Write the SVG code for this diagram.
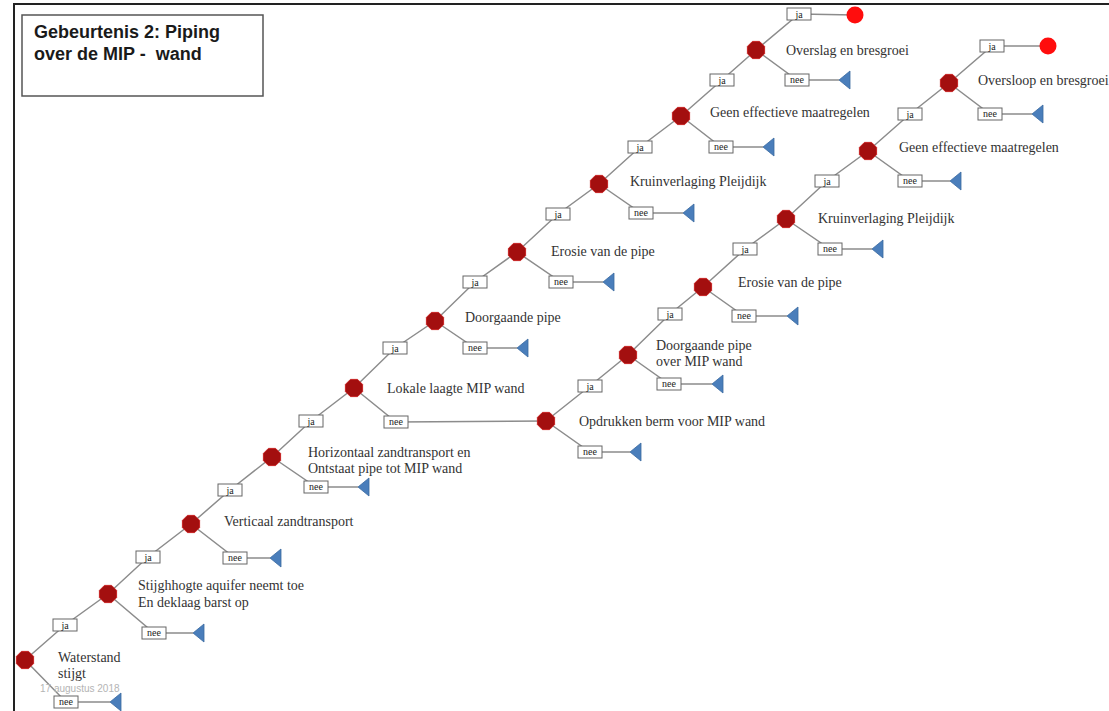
<svg xmlns="http://www.w3.org/2000/svg" xmlns:xlink="http://www.w3.org/1999/xlink" width="1109" height="711" viewBox="0 0 1109 711">
<style>
.ln{stroke:#8c8c8c;stroke-width:1.5;fill:none}
.lbl{font-family:"Liberation Serif","Times New Roman",serif;font-size:14px;fill:#333;white-space:pre}
.box{fill:#fff;stroke:#666;stroke-width:1}
.bt{font-family:"Liberation Serif","Times New Roman",serif;font-size:10px;fill:#222;text-anchor:middle}
.oct{fill:#a30f0f;stroke:#c62020;stroke-width:1}
.tri{fill:#4a7ebb;stroke:#3a6aa0;stroke-width:0.8}
.end{fill:#ff0d0d}
.title{font-family:"Liberation Sans",Arial,sans-serif;font-size:18px;font-weight:bold;fill:#1a1a1a;white-space:pre}
</style>
<defs>
<path id="oct" d="M-3.6,-8.6 L3.6,-8.6 L8.6,-3.6 L8.6,3.6 L3.6,8.6 L-3.6,8.6 L-8.6,3.6 L-8.6,-3.6 Z"/>
<path id="tri" d="M0,0 L11,-9 L11,9 Z"/>
</defs>
<rect width="1109" height="711" fill="#fff"/>
<path d="M14,711 V4 H1109" stroke="#222" stroke-width="2" fill="none"/>
<g id="title">
<rect x="22" y="15" width="241" height="81" fill="#fff" stroke="#555" stroke-width="1.5"/>
<text class="title" x="34" y="38">Gebeurtenis 2: Piping</text>
<text class="title" x="34" y="60" xml:space="preserve">over de MIP -  wand</text>
</g>
<g id="connectors">
<polyline class="ln" points="25,660 65,625 108,594 148,557 191,524 230,490 272,457 311,421 354,388 395,348 435,321 475,282 517,252 558,214 599,184 640,147 681,116 722,80 756,50 799,14 855,15"/>
<polyline class="ln" points="546,421 590,386 628,355 670,314 703,287 745,249 786,219 827,181 868,151 910,114 949,83 992,46 1048,46"/>
<polyline class="ln" points="25,660 66,702 110,702"/>
<polyline class="ln" points="108,594 154,633 193,633"/>
<polyline class="ln" points="191,524 235,558 270,558"/>
<polyline class="ln" points="272,457 316,487 358,487"/>
<polyline class="ln" points="354,388 396,422 546,421"/>
<polyline class="ln" points="435,321 475,348 517,348"/>
<polyline class="ln" points="517,252 561,282 603,282"/>
<polyline class="ln" points="599,184 641,213 683,213"/>
<polyline class="ln" points="681,116 721,147 763,147"/>
<polyline class="ln" points="756,50 797,80 839,80"/>
<polyline class="ln" points="546,421 590,452 630,452"/>
<polyline class="ln" points="628,355 669,384 712,384"/>
<polyline class="ln" points="703,287 744,316 787,316"/>
<polyline class="ln" points="786,219 830,249 872,249"/>
<polyline class="ln" points="868,151 910,181 950,181"/>
<polyline class="ln" points="949,83 990,114 1032,114"/>
<g id="ja-labels">
<rect class="box" x="53" y="619" width="24" height="12"/><text class="bt" x="65" y="629">ja</text>
<rect class="box" x="136" y="551" width="24" height="12"/><text class="bt" x="148" y="561">ja</text>
<rect class="box" x="218" y="484" width="24" height="12"/><text class="bt" x="230" y="494">ja</text>
<rect class="box" x="299" y="415" width="24" height="12"/><text class="bt" x="311" y="425">ja</text>
<rect class="box" x="383" y="342" width="24" height="12"/><text class="bt" x="395" y="352">ja</text>
<rect class="box" x="463" y="276" width="24" height="12"/><text class="bt" x="475" y="286">ja</text>
<rect class="box" x="546" y="208" width="24" height="12"/><text class="bt" x="558" y="218">ja</text>
<rect class="box" x="628" y="141" width="24" height="12"/><text class="bt" x="640" y="151">ja</text>
<rect class="box" x="710" y="74" width="24" height="12"/><text class="bt" x="722" y="84">ja</text>
<rect class="box" x="787" y="8" width="24" height="12"/><text class="bt" x="799" y="18">ja</text>
<rect class="box" x="578" y="380" width="24" height="12"/><text class="bt" x="590" y="390">ja</text>
<rect class="box" x="658" y="308" width="24" height="12"/><text class="bt" x="670" y="318">ja</text>
<rect class="box" x="733" y="243" width="24" height="12"/><text class="bt" x="745" y="253">ja</text>
<rect class="box" x="815" y="175" width="24" height="12"/><text class="bt" x="827" y="185">ja</text>
<rect class="box" x="898" y="108" width="24" height="12"/><text class="bt" x="910" y="118">ja</text>
<rect class="box" x="980" y="40" width="24" height="12"/><text class="bt" x="992" y="50">ja</text>
</g>
<g id="nee-labels">
<rect class="box" x="54" y="696" width="24" height="12"/><text class="bt" x="66" y="705">nee</text>
<rect class="box" x="142" y="627" width="24" height="12"/><text class="bt" x="154" y="636">nee</text>
<rect class="box" x="223" y="552" width="24" height="12"/><text class="bt" x="235" y="561">nee</text>
<rect class="box" x="304" y="481" width="24" height="12"/><text class="bt" x="316" y="490">nee</text>
<rect class="box" x="384" y="416" width="24" height="12"/><text class="bt" x="396" y="425">nee</text>
<rect class="box" x="463" y="342" width="24" height="12"/><text class="bt" x="475" y="351">nee</text>
<rect class="box" x="549" y="276" width="24" height="12"/><text class="bt" x="561" y="285">nee</text>
<rect class="box" x="629" y="207" width="24" height="12"/><text class="bt" x="641" y="216">nee</text>
<rect class="box" x="709" y="141" width="24" height="12"/><text class="bt" x="721" y="150">nee</text>
<rect class="box" x="785" y="74" width="24" height="12"/><text class="bt" x="797" y="83">nee</text>
<rect class="box" x="578" y="446" width="24" height="12"/><text class="bt" x="590" y="455">nee</text>
<rect class="box" x="657" y="378" width="24" height="12"/><text class="bt" x="669" y="387">nee</text>
<rect class="box" x="732" y="310" width="24" height="12"/><text class="bt" x="744" y="319">nee</text>
<rect class="box" x="818" y="243" width="24" height="12"/><text class="bt" x="830" y="252">nee</text>
<rect class="box" x="898" y="175" width="24" height="12"/><text class="bt" x="910" y="184">nee</text>
<rect class="box" x="978" y="108" width="24" height="12"/><text class="bt" x="990" y="117">nee</text>
</g>
</g>
<g id="n1"><use href="#oct" class="oct" x="25" y="660"/><text class="lbl" x="58" y="662">Waterstand</text><text class="lbl" x="58" y="678">stijgt</text></g>
<g id="n2"><use href="#oct" class="oct" x="108" y="594"/><text class="lbl" x="138" y="590">Stijghhogte aquifer neemt toe</text><text class="lbl" x="138" y="607">En deklaag barst op</text></g>
<g id="n3"><use href="#oct" class="oct" x="191" y="524"/><text class="lbl" x="224" y="526">Verticaal zandtransport</text></g>
<g id="n4"><use href="#oct" class="oct" x="272" y="457"/><text class="lbl" x="308" y="457">Horizontaal zandtransport en</text><text class="lbl" x="308" y="473">Ontstaat pipe tot MIP wand</text></g>
<g id="n5"><use href="#oct" class="oct" x="354" y="388"/><text class="lbl" x="387" y="393">Lokale laagte MIP wand</text></g>
<g id="n6"><use href="#oct" class="oct" x="435" y="321"/><text class="lbl" x="465" y="322">Doorgaande pipe</text></g>
<g id="n7"><use href="#oct" class="oct" x="517" y="252"/><text class="lbl" x="551" y="256">Erosie van de pipe</text></g>
<g id="n8"><use href="#oct" class="oct" x="599" y="184"/><text class="lbl" x="630" y="186">Kruinverlaging Pleijdijk</text></g>
<g id="n9"><use href="#oct" class="oct" x="681" y="116"/><text class="lbl" x="710" y="117">Geen effectieve maatregelen</text></g>
<g id="n10"><use href="#oct" class="oct" x="756" y="50"/><text class="lbl" x="786" y="55">Overslag en bresgroei</text></g>
<g id="n11"><use href="#oct" class="oct" x="546" y="421"/><text class="lbl" x="579" y="426">Opdrukken berm voor MIP wand</text></g>
<g id="n12"><use href="#oct" class="oct" x="628" y="355"/><text class="lbl" x="656" y="350">Doorgaande pipe</text><text class="lbl" x="656" y="366">over MIP wand</text></g>
<g id="n13"><use href="#oct" class="oct" x="703" y="287"/><text class="lbl" x="738" y="287">Erosie van de pipe</text></g>
<g id="n14"><use href="#oct" class="oct" x="786" y="219"/><text class="lbl" x="818" y="223">Kruinverlaging Pleijdijk</text></g>
<g id="n15"><use href="#oct" class="oct" x="868" y="151"/><text class="lbl" x="899" y="152">Geen effectieve maatregelen</text></g>
<g id="n16"><use href="#oct" class="oct" x="949" y="83"/><text class="lbl" x="978" y="85">Oversloop en bresgroei</text></g>
<g id="outcomes">
<circle class="end" cx="855" cy="15" r="8.5"/>
<circle class="end" cx="1048" cy="46" r="8.5"/>
<use href="#tri" class="tri" x="110" y="702"/>
<use href="#tri" class="tri" x="193" y="633"/>
<use href="#tri" class="tri" x="270" y="558"/>
<use href="#tri" class="tri" x="358" y="487"/>
<use href="#tri" class="tri" x="517" y="348"/>
<use href="#tri" class="tri" x="603" y="282"/>
<use href="#tri" class="tri" x="683" y="213"/>
<use href="#tri" class="tri" x="763" y="147"/>
<use href="#tri" class="tri" x="839" y="80"/>
<use href="#tri" class="tri" x="630" y="452"/>
<use href="#tri" class="tri" x="712" y="384"/>
<use href="#tri" class="tri" x="787" y="316"/>
<use href="#tri" class="tri" x="872" y="249"/>
<use href="#tri" class="tri" x="950" y="181"/>
<use href="#tri" class="tri" x="1032" y="114"/>
</g>
<text x="40" y="692" font-family="'Liberation Sans',Arial,sans-serif" font-size="10" fill="#b4b4b4">17 augustus 2018</text>
</svg>
